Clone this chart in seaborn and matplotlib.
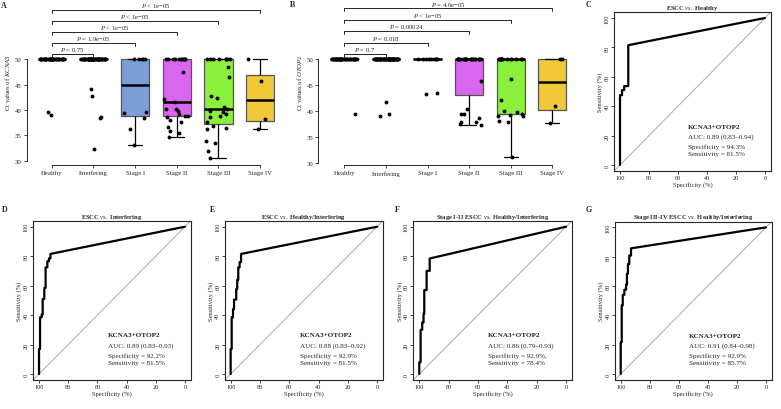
import numpy as np
import pandas as pd
import seaborn as sns
import matplotlib.pyplot as plt

# ---- Ct values (panel A: KCNA3, panel B: OTOP2)
groups = ["Healthy", "Interfering", "Stage I", "Stage II", "Stage III", "Stage IV"]

kcna3_healthy = [50.0] * 33 + [39.1, 39.6]
kcna3_interfering = [50.0] * 46 + [44.2, 42.7, 38.4, 38.7, 32.4]
kcna3_stage1 = [50.0] * 5 + [39.7, 39.5, 38.5, 36.2, 33.0]
kcna3_stage2 = [50.0] * 11 + [47.4, 42.2, 41.6, 40.2, 40.1, 39.8, 39.2, 38.9, 38.9,
                              38.7, 38.1, 37.6, 36.7, 35.9, 35.4, 34.6]
kcna3_stage3 = [50.0] * 8 + [48.4, 46.5, 42.8, 42.4, 40.5, 40.2, 39.8, 39.6, 39.2, 38.8,
                             38.6, 37.7, 36.8, 36.4, 36.2, 33.9, 33.4, 32.0, 30.6]
kcna3_stage4 = [50.0, 45.8, 38.3, 36.2]

otop2_healthy = [50.0] * 34 + [39.4]
otop2_interfering = [50.0] * 48 + [41.8, 39.4, 39.1]
otop2_stage1 = [50.0] * 9 + [43.3, 43.6]
otop2_stage2 = [50.0] * 22 + [45.8, 40.4, 39.5, 39.5, 38.8, 38.0, 37.9, 37.6, 37.4]
otop2_stage3 = [50.0] * 14 + [46.3, 42.2, 40.0, 39.9, 39.5, 39.3, 39.1, 39.0, 38.1, 37.9, 31.3]
otop2_stage4 = [50.0, 50.0, 41.1, 37.8]

kcna3_pvals = ["= 0.75", "= 1.9e\u221205", "< 1e\u221205", "< 1e\u221205", "< 1e\u221205"]
otop2_pvals = ["= 0.7", "= 0.018", "= 0.00024", "< 1e\u221205", "= 4.6e\u221205"]

box_colors = {"Healthy": "white", "Interfering": "white", "Stage I": "#7c9fd8",
              "Stage II": "#d966ee", "Stage III": "#8af03c", "Stage IV": "#f0c83a"}

# ---- ROC curves (specificity %, sensitivity %)
roc_c_spec = [100, 100, 98.6, 98.6, 97.1, 97.1, 94.3, 94.3, 0]
roc_c_sens = [0, 47.5, 47.5, 51.0, 51.0, 53.7, 53.7, 81.5, 100]
roc_d_spec = [100, 100, 99.3, 99.3, 98.2, 98.2, 97.5, 97.5, 96.4, 96.4, 95.5, 95.5,
              94.3, 94.3, 93.2, 93.2, 92.2, 92.2, 0]
roc_d_sens = [0, 17, 17, 38.5, 38.5, 40.3, 40.3, 50.9, 50.9, 58.4, 58.4, 72.4,
              72.4, 76.5, 76.5, 78.5, 78.5, 81.5, 100]
roc_e_spec = [100, 100, 99.3, 99.3, 98.4, 98.4, 97.7, 97.7, 96.2, 96.2, 95.5, 95.5,
              94.8, 94.8, 93.9, 93.9, 92.9, 92.9, 0]
roc_e_sens = [0, 17, 17, 38.5, 38.5, 44, 44, 50.5, 50.5, 57.7, 57.7, 64,
              64, 72.4, 72.4, 76, 76, 81.5, 100]
roc_f_spec = [100, 100, 99.1, 99.1, 98.0, 98.0, 97.1, 97.1, 96.6, 96.6, 95.0, 95.0,
              92.9, 92.9, 0]
roc_f_sens = [0, 8, 8, 30, 30, 35, 35, 41, 41, 57, 57, 70, 70, 78.4, 100]
roc_g_spec = [100, 100, 99.3, 99.3, 98.6, 98.6, 97.5, 97.5, 96.3, 96.3, 95.7, 95.7,
              95.0, 95.0, 94.1, 94.1, 92.9, 92.9, 0]
roc_g_sens = [0, 21.7, 21.7, 46.8, 46.8, 54, 54, 57.5, 57.5, 61, 61, 68.4,
              68.4, 75, 75, 80.8, 80.8, 85.7, 100]

roc_titles = ["ESCC $\\mathit{vs.}$ Healthy", "ESCC $\\mathit{vs.}$ Interfering",
              "ESCC $\\mathit{vs.}$ Healthy/Interfering",
              "Stage I-II ESCC $\\mathit{vs.}$ Healthy/Interfering",
              "Stage III-IV ESCC $\\mathit{vs.}$ Healthy/Interfering"]
roc_auc = ["0.89 (0.83\u20130.94)", "0.89 (0.83\u20130.93)", "0.88 (0.83\u20130.92)",
           "0.86 (0.79\u20130.93)", "0.91 (0.84\u20130.98)"]
roc_specificity = ["94.3%", "92.2%", "92.9%", "92.9%,", "92.9%"]
roc_sensitivity = ["81.5%", "81.5%", "81.5%", "78.4%", "85.7%"]

sns.set_style("ticks")
plt.rcParams["font.family"] = ["Liberation Serif", "DejaVu Serif"]
plt.rcParams["mathtext.fontset"] = "custom"
plt.rcParams["mathtext.rm"] = "Liberation Serif"
plt.rcParams["mathtext.it"] = "Liberation Serif:italic"
plt.rcParams["mathtext.bf"] = "Liberation Serif:bold"

W, H = 781, 410
fig = plt.figure(figsize=(W / 100, H / 100), dpi=100)


def px_axes(left, top, right, bottom):
    return fig.add_axes([left / W, 1 - bottom / H, (right - left) / W, (bottom - top) / H])


def box_panel(ax, values, gene, pvals, xlim, ylim):
    df = pd.DataFrame({"group": np.repeat(groups, [len(v) for v in values]),
                       "ct": np.concatenate(values)})
    sns.boxplot(data=df, x="group", y="ct", hue="group", order=groups, hue_order=groups,
                palette=box_colors, saturation=1, width=0.68, showfliers=False,
                linecolor="#555555", linewidth=0.9, legend=False,
                medianprops=dict(color="black", linewidth=1.8),
                whiskerprops=dict(color="black", linewidth=0.9),
                capprops=dict(color="black", linewidth=0.9), ax=ax)
    sns.stripplot(data=df, x="group", y="ct", order=groups, color="black", size=2.8,
                  jitter=0.3, zorder=3, ax=ax)
    ax.set_xlim(xlim)
    ax.set_ylim(ylim)
    ax.set_xlabel("")
    ax.set_ylabel(f"Ct values of ${gene}$", fontsize=4.9, labelpad=2)
    ax.set_yticks([30, 35, 40, 45, 50])
    for s in ["top", "right"]:
        ax.spines[s].set_visible(False)
    ax.spines["left"].set_bounds(30, 50)
    ax.spines["bottom"].set_bounds(0, 5)
    for s in ["left", "bottom"]:
        ax.spines[s].set_linewidth(0.7)
    ax.tick_params(labelsize=4.9, length=2.2, width=0.6, pad=1.5)
    # significance brackets, Healthy vs each other group
    for i, lab in enumerate(pvals):
        j = i + 1
        lev = 51.0 + 2.2 * i
        ax.plot([0, 0, j, j], [lev - 0.6, lev, lev, lev - 0.6], color="black", lw=0.6,
                clip_on=False)
        ax.text(j / 2, lev + 0.15, "$P$ " + lab, ha="center", va="bottom", fontsize=4.8)


np.random.seed(7)
ax_a = px_axes(27, 0, 275, 165.5)
box_panel(ax_a, [kcna3_healthy, kcna3_interfering, kcna3_stage1, kcna3_stage2,
                 kcna3_stage3, kcna3_stage4], "KCNA3", kcna3_pvals,
          (-0.592, 5.355), (29.25, 61.89))
ax_b = px_axes(318.3, 0, 570, 166)
box_panel(ax_b, [otop2_healthy, otop2_interfering, otop2_stage1, otop2_stage2,
                 otop2_stage3, otop2_stage4], "OTOP2", otop2_pvals,
          (-0.625, 5.425), (29.67, 61.6))

roc_boxes = [(614.2, 13.1, 770.8, 171.9), (33.2, 221.8, 190.8, 380.9),
             (224.8, 221.8, 383, 380.9), (413.4, 221.8, 572, 380.9),
             (614.9, 222.5, 771.8, 380.9)]
roc_specs = [roc_c_spec, roc_d_spec, roc_e_spec, roc_f_spec, roc_g_spec]
roc_senss = [roc_c_sens, roc_d_sens, roc_e_sens, roc_f_sens, roc_g_sens]

for k in range(5):
    ax = px_axes(*roc_boxes[k])
    # chance line: sensitivity = 100 - specificity
    ax.axline((100, 0), (0, 100), color="#aaaaaa", lw=0.7)
    sns.lineplot(x=roc_specs[k], y=roc_senss[k], sort=False, estimator=None,
                 color="black", lw=1.6, ax=ax)
    ax.set_xlim(104, -4)
    ax.set_ylim(-4, 104)
    ax.set_xticks([100, 80, 60, 40, 20, 0])
    ax.set_yticks([0, 20, 40, 60, 80, 100])
    ax.tick_params(labelsize=4.5, length=2.2, width=0.6, pad=1)
    ax.tick_params(axis="y", labelrotation=90)
    for t in ax.get_yticklabels():
        t.set_va("center")
    for s in ax.spines.values():
        s.set_linewidth(0.8)
    ax.set_xlabel("Specificity (%)", fontsize=4.7, labelpad=0.5)
    ax.set_ylabel("Sensitivity (%)", fontsize=4.7, labelpad=1)
    ax.set_title(roc_titles[k], fontsize=4.7, fontweight="bold", pad=2)
    tx = 53
    ax.text(tx, 26.5, "KCNA3+OTOP2", fontsize=5.1, fontweight="bold", va="center")
    ax.text(tx, 19.5, "AUC: " + roc_auc[k], fontsize=5.1, va="center")
    ax.text(tx, 12.8, "Specificity = " + roc_specificity[k], fontsize=5.1, va="center")
    ax.text(tx, 7.6, "Sensitivity = " + roc_sensitivity[k], fontsize=5.1, va="center")

# panel letters
for lab, x, y in [("A", 4, 6), ("B", 293, 5), ("C", 588, 5), ("D", 5, 210),
                  ("E", 213, 210), ("F", 397, 210), ("G", 589, 210)]:
    fig.text(x / W, 1 - y / H, lab, fontsize=5.8, fontweight="bold", va="center", ha="center")

fig.savefig("out.png", dpi=100)
plt.close(fig)
